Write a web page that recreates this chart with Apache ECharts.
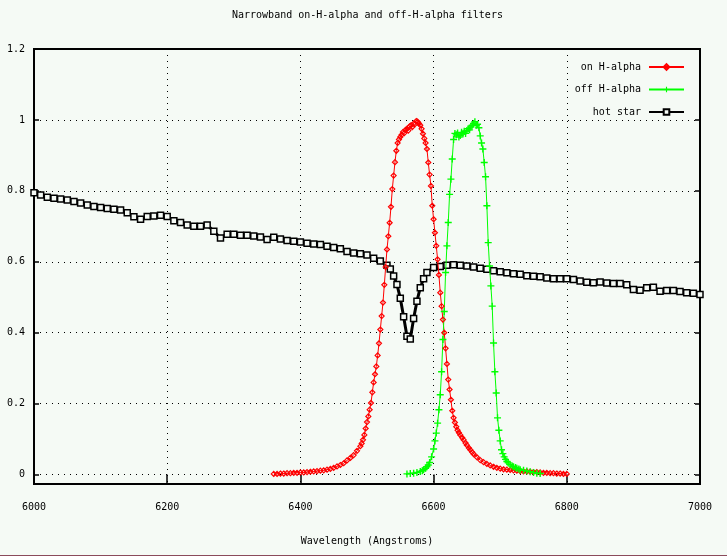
<!DOCTYPE html>
<html>
<head>
<meta charset="utf-8">
<script src="https://cdn.jsdelivr.net/npm/echarts@6/dist/echarts.min.js"></script>
<style>
html,body{margin:0;padding:0;background:#f5faf5}
#chart{width:727px;height:556px}
</style>
</head>
<body>
<div id="chart"></div>
<script>
var titleText = 'Narrowband on-H-alpha and off-H-alpha filters'
var xName = 'Wavelength (Angstroms)'
var seriesNames = ['on H-alpha', 'off H-alpha', 'hot star']
var yTickLabels = ['0', '0.2', '0.4', '0.6', '0.8', '1', '1.2']

// hot star spectrum
var starWave = [6000,6010,6020,6030,6040,6050,6060,6070,6080,6090,
	6100,6110,6120,6130,6140,6150,6160,6170,6180,6190,
	6200,6210,6220,6230,6240,6250,6260,6270,6280,6290,
	6300,6310,6320,6330,6340,6350,6360,6370,6380,6390,
	6400,6410,6420,6430,6440,6450,6460,6470,6480,6490,
	6500,6510,6520,6530,6535,6540,6545,6550,6555,6560,6565,6570,6575,6580,6585,6590,
	6600,6610,6620,6630,6640,6650,6660,6670,6680,6690,
	6700,6710,6720,6730,6740,6750,6760,6770,6780,6790,
	6800,6810,6820,6830,6840,6850,6860,6870,6880,6890,
	6900,6910,6920,6930,6940,6950,6960,6970,6980,6990,7000]
var starFlux = [.795,.788,.782,.779,.777,.774,.770,.766,.760,.756,
	.753,.750,.748,.746,.738,.727,.720,.728,.729,.731,
	.728,.716,.711,.704,.700,.700,.704,.686,.667,.678,
	.678,.675,.675,.673,.670,.663,.669,.664,.660,.658,
	.656,.652,.650,.649,.644,.640,.637,.629,.625,.623,
	.619,.610,.602,.590,.580,.560,.536,.497,.445,.390,.382,.440,.489,.527,.552,.570,
	.584,.587,.590,.592,.590,.588,.585,.582,.579,.575,
	.572,.569,.566,.565,.561,.559,.558,.554,.552,.552,
	.552,.550,.546,.542,.541,.543,.540,.539,.539,.535,
	.522,.520,.527,.528,.517,.519,.519,.516,.513,.511,.508]

// on H-alpha filter
var onWave = [6360,6365,6370,6375,6380,6385,6390,6395,6400,6405,6410,6415,6420,6425,6430,6435,6440,6445,6450,6455,
	6460,6465,6470,6475,6480,6485,6490,6492,6494,6496,6498,
	6500,6502,6504,6506,6508,6510,6512,6514,6516,6518,6520,6522,6524,6526,6528,6530,6532,6534,6536,6538,6540,6542,6544,6546,6548,
	6550,6552,6554,6556,6558,6560,6562,6564,6566,6568,6570,6572,6574,6576,6578,
	6580,6582,6584,6586,6588,6590,6592,6594,6596,6598,6600,6602,6604,6606,6608,6610,6612,6614,6616,6618,6620,6622,6624,6626,6628,6630,6632,6634,6636,6638,
	6640,6643,6645,6648,6650,6653,6655,6658,6660,6665,6670,6675,6680,6685,6690,6695,6700,6705,6710,6715,6720,6725,6730,6735,
	6740,6745,6750,6755,6760,6765,6770,6775,6780,6785,6790,6795,6800]
var onTrans = [.002,.002,.003,.003,.004,.004,.005,.005,.006,.006,.007,.008,.009,.010,.011,.012,.014,.016,.019,.023,
	.027,.032,.040,.047,.055,.067,.080,.088,.098,.112,.130,
	.148,.164,.183,.202,.232,.260,.283,.305,.336,.370,.409,.447,.485,.535,.585,.635,.672,.710,.755,.805,.843,.881,.913,.935,.945,
	.952,.958,.966,.963,.972,.975,.970,.982,.985,.980,.990,.988,.997,.995,.990,
	.985,.975,.961,.948,.935,.918,.880,.846,.814,.758,.720,.682,.645,.607,.563,.513,.475,.437,.400,.356,.312,.268,.240,.211,.180,.160,.147,.135,.125,.118,
	.112,.104,.098,.089,.083,.075,.070,.063,.058,.049,.041,.035,.030,.026,.022,.019,.017,.015,.014,.013,.012,.011,.010,.009,
	.009,.008,.007,.007,.006,.005,.005,.004,.004,.003,.003,.002,.002]

// off H-alpha filter
var offWave = [6560,6565,6570,6575,6580,6583,6585,6588,6590,6592,6594,6597,6600,6602,6604,6606,6608,6610,6612,6614,6616,6618,6620,6622,6624,6626,6628,
	6630,6632,6634,6636,6638,6640,6642,6644,6646,6648,6650,6652,6654,6656,6658,6660,6662,6664,6666,6668,
	6670,6672,6674,6676,6678,6680,6682,6684,6686,6688,6690,6692,6694,6696,6698,6700,6702,6704,6706,6708,6710,6712,6715,6718,6720,6723,6725,6728,6730,6735,6740,6745,6750,6755,6760]
var offTrans = [.002,.003,.004,.006,.009,.011,.014,.018,.022,.027,.034,.050,.072,.095,.117,.145,.183,.225,.290,.381,.460,.570,.645,.711,.790,.833,.890,
	.945,.962,.958,.963,.952,.956,.965,.960,.968,.962,.970,.975,.972,.980,.985,.990,.995,.985,.988,.978,
	.955,.935,.918,.880,.840,.758,.654,.588,.532,.475,.371,.290,.230,.160,.125,.095,.070,.059,.050,.043,.037,.033,.028,.024,.022,.020,.018,.016,.014,.012,.010,.008,.006,.004,.003]

var zip = function (xs, ys) {
	return xs.map(function (x, i) { return [x, ys[i]] })
}

var font = "'DejaVu Sans Mono', monospace"
var bg = '#f5faf5'
var dotted = {type: [1, 5], color: '#000', width: 1}

var option = {
	backgroundColor: bg,
	animation: false,
	textStyle: {fontFamily: font, fontSize: 10, color: '#000'},
	title: {
		text: titleText, left: 232, top: 10, padding: 0,
		textStyle: {fontFamily: font, fontSize: 10, fontWeight: 'normal', color: '#000'}
	},
	legend: {
		data: seriesNames,
		orient: 'vertical', right: 42, top: 61, align: 'right', padding: 0,
		itemWidth: 35, itemHeight: 7, itemGap: 10.5,
		selectedMode: false,
		textStyle: {fontFamily: font, fontSize: 10, color: '#000', lineHeight: 12, padding: [0, 3, 0, 0]}
	},
	grid: [
		// data area, 0 .. 1.2
		{left: 34, top: 49, width: 666, height: 425.6},
		// frame, a little below 0
		{left: 34, top: 49, width: 666, height: 435, show: true, borderColor: '#000', borderWidth: 2, backgroundColor: 'transparent'}
	],
	xAxis: [{
		gridIndex: 0, type: 'value', min: 6000, max: 7000, interval: 200, position: 'top',
		axisLine: {show: false},
		axisTick: {inside: true, length: 5, lineStyle: {color: '#000', width: 1.5}},
		axisLabel: {show: false},
		splitLine: {show: false}
	}, {
		gridIndex: 1, type: 'value', min: 6000, max: 7000, interval: 200, position: 'bottom',
		axisLine: {show: false},
		axisTick: {inside: true, length: 5, lineStyle: {color: '#000', width: 1.5}},
		axisLabel: {margin: 18, color: '#000', fontFamily: font, fontSize: 10,
			formatter: function (v) { return String(v) }},
		splitLine: {show: true, lineStyle: dotted},
		name: xName, nameLocation: 'middle', nameGap: 52,
		nameTextStyle: {fontFamily: font, fontSize: 10, color: '#000'}
	}],
	yAxis: [{
		gridIndex: 0, type: 'value', min: 0, max: 1.2, interval: 0.2, position: 'left',
		axisLine: {show: false},
		axisTick: {inside: true, length: 5, lineStyle: {color: '#000', width: 1.5}},
		axisLabel: {
			margin: 9, color: '#000', fontFamily: font, fontSize: 10,
			formatter: function (v) { return yTickLabels[Math.round(v / 0.2)] }
		},
		splitLine: {show: true, lineStyle: dotted}
	}, {
		gridIndex: 0, type: 'value', min: 0, max: 1.2, interval: 0.2, position: 'right',
		axisLine: {show: false},
		axisTick: {inside: true, length: 5, lineStyle: {color: '#000', width: 1.5}},
		axisLabel: {show: false},
		splitLine: {show: false}
	}, {
		gridIndex: 1, type: 'value', min: 0, max: 1, show: false
	}],
	graphic: [{
		type: 'rect', shape: {x: 0, y: 555, width: 727, height: 1}, style: {fill: '#8a4a5a'}, silent: true
	}],
	series: [{
		name: 'hot star', type: 'line', xAxisIndex: 0, yAxisIndex: 0,
		data: zip(starWave, starFlux),
		symbol: 'rect', symbolSize: 6, showAllSymbol: true,
		itemStyle: {color: bg, borderColor: '#000', borderWidth: 1.5},
		lineStyle: {color: '#000', width: 3},
		emphasis: {disabled: true}, z: 2
	}, {
		name: 'on H-alpha', type: 'line', xAxisIndex: 0, yAxisIndex: 0,
		data: zip(onWave, onTrans),
		symbol: 'diamond', symbolSize: 5, showAllSymbol: true,
		itemStyle: {color: 'rgba(0,0,0,0)', borderColor: '#ff0000', borderWidth: 1.2},
		lineStyle: {color: '#ff0000', width: 1},
		emphasis: {disabled: true}, z: 3
	}, {
		name: 'off H-alpha', type: 'line', xAxisIndex: 0, yAxisIndex: 0,
		data: zip(offWave, offTrans),
		symbol: 'path://M4,0H6V4H10V6H6V10H4V6H0V4H4Z', symbolSize: 7, showAllSymbol: true,
		itemStyle: {color: '#00ff00'},
		lineStyle: {color: '#00ff00', width: 1},
		emphasis: {disabled: true}, z: 3
	}]
}

var myChart = echarts.init(document.getElementById('chart'))
myChart.setOption(option)
</script>
</body>
</html>
